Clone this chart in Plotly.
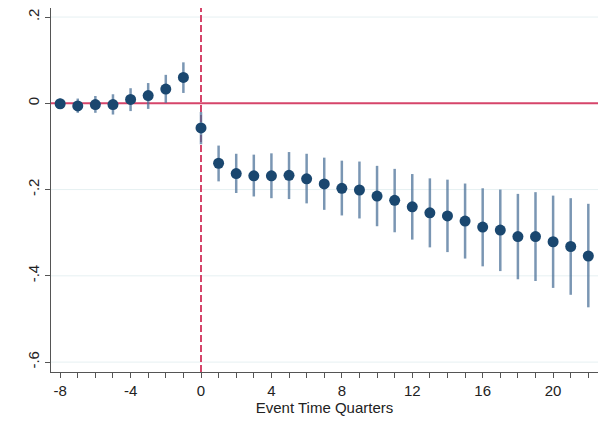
import plotly.graph_objects as go

event_time = list(range(-8, 23))
coef = [-0.001, -0.006, -0.003, -0.003, 0.009, 0.018, 0.033, 0.060,
        -0.057, -0.139, -0.163, -0.168, -0.168, -0.167, -0.175, -0.187,
        -0.197, -0.201, -0.215, -0.225, -0.240, -0.254, -0.261, -0.273,
        -0.287, -0.294, -0.309, -0.309, -0.321, -0.332, -0.354]
ci_hi = [0.011, 0.011, 0.017, 0.021, 0.035, 0.047, 0.066, 0.095,
         -0.020, -0.098, -0.117, -0.119, -0.116, -0.113, -0.117, -0.126,
         -0.133, -0.135, -0.145, -0.152, -0.164, -0.174, -0.177, -0.186,
         -0.197, -0.200, -0.210, -0.206, -0.214, -0.220, -0.233]
ci_lo = [-0.012, -0.022, -0.022, -0.026, -0.018, -0.013, 0.001, 0.024,
         -0.095, -0.181, -0.208, -0.216, -0.220, -0.222, -0.232, -0.247,
         -0.260, -0.267, -0.285, -0.299, -0.316, -0.334, -0.345, -0.360,
         -0.378, -0.389, -0.408, -0.412, -0.428, -0.444, -0.473]
y_ticks = [-0.6, -0.4, -0.2, 0, 0.2]
y_tick_labels = ["-.6", "-.4", "-.2", "0", ".2"]
x_ticks = [-8, -4, 0, 4, 8, 12, 16, 20]
x_tick_labels = [str(v) for v in x_ticks]

red = "#d6456a"
navy = "#1a476f"
bar_col = "rgba(70,110,150,0.72)"
grid_col = "#e6f0f2"

fig = go.Figure()

# light gridlines (drawn as shapes so the zero line can sit on top)
for yv in y_ticks:
    if yv != 0:
        fig.add_hline(y=yv, line=dict(color=grid_col, width=1), layer="below")

# reference lines
fig.add_hline(y=0, line=dict(color=red, width=2), layer="below")
fig.add_vline(x=0, line=dict(color=red, width=2, dash="7px,3px"), layer="below")

# confidence interval bars
xs, ys = [], []
for x, lo, hi in zip(event_time, ci_lo, ci_hi):
    xs += [x, x, None]
    ys += [lo, hi, None]
fig.add_trace(go.Scatter(x=xs, y=ys, mode="lines",
                         line=dict(color=bar_col, width=2.5),
                         hoverinfo="skip", showlegend=False))

fig.add_trace(go.Scatter(x=event_time, y=coef, mode="markers",
                         marker=dict(color=navy, size=11),
                         showlegend=False))

# page body has an 8px default margin, so the figure is offset by 8px
fig.update_layout(
    width=603, height=422,
    margin=dict(l=43, r=13, t=0, b=58),
    paper_bgcolor="white", plot_bgcolor="white",
    font=dict(family="Liberation Sans, Arial, sans-serif", size=15, color="#222"),
)
fig.update_xaxes(
    range=[-8.52, 22.55],
    automargin=False,
    tickmode="array", tickvals=x_ticks, ticktext=x_tick_labels,
    ticks="outside", ticklen=5, tickcolor="#555", tickwidth=1,
    minor=dict(dtick=1, tick0=0, ticks="outside", ticklen=5, tickcolor="#555", showgrid=False),
    showline=True, linecolor="#555", linewidth=1,
    showgrid=False, zeroline=False,
    title=dict(text="Event Time Quarters", font=dict(size=15), standoff=3),
)
fig.update_yaxes(
    range=[-0.623, 0.221],
    automargin=False,
    tickmode="array", tickvals=y_ticks, ticktext=y_tick_labels,
    tickangle=-90,
    ticks="outside", ticklen=5, tickcolor="#555", tickwidth=1,
    showline=True, linecolor="#555", linewidth=1,
    showgrid=False, zeroline=False,
)

fig.write_html("out.html")
